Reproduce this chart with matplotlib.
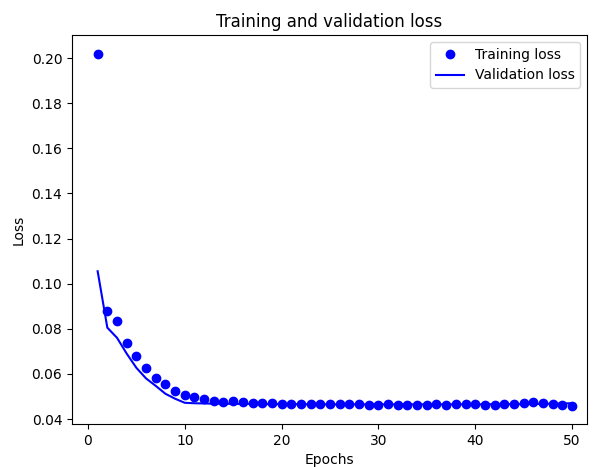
import numpy as np
import matplotlib
matplotlib.use("Agg")
import matplotlib.pyplot as plt

# Loss values
train_loss = [0.2020, 0.0878, 0.0836, 0.0736, 0.0680, 0.0628, 0.0582, 0.0554, 0.0526, 0.0508,
              0.0496, 0.0488, 0.0482, 0.0477, 0.0478, 0.0474, 0.0470, 0.0471, 0.0469, 0.0468,
              0.0468, 0.0467, 0.0467, 0.0468, 0.0466, 0.0465, 0.0466, 0.0467, 0.0464, 0.0463,
              0.0465, 0.0464, 0.0464, 0.0463, 0.0464, 0.0465, 0.0464, 0.0466, 0.0467, 0.0465,
              0.0464, 0.0463, 0.0465, 0.0467, 0.0469, 0.0474, 0.0472, 0.0466, 0.0463, 0.0458]
val_loss = [0.1055, 0.0805, 0.0760, 0.0690, 0.0627, 0.0580, 0.0547, 0.0512, 0.0490, 0.0472,
            0.0470, 0.0469, 0.0468, 0.0468, 0.0467, 0.0467, 0.0467, 0.0466, 0.0466, 0.0466,
            0.0466, 0.0466, 0.0465, 0.0465, 0.0465, 0.0465, 0.0465, 0.0465, 0.0465, 0.0465,
            0.0465, 0.0465, 0.0465, 0.0465, 0.0465, 0.0465, 0.0465, 0.0465, 0.0465, 0.0465,
            0.0465, 0.0466, 0.0466, 0.0466, 0.0466, 0.0467, 0.0467, 0.0468, 0.0469, 0.0470]
epochs = np.arange(1, len(train_loss) + 1)

fig = plt.figure(figsize=(5.95, 4.67), dpi=100)
ax = fig.add_axes([72 / 595, 1 - 424 / 467, (587 - 72) / 595, (424 - 35) / 467])

ax.plot(epochs, train_loss, 'bo', label='Training loss')
ax.plot(epochs, val_loss, 'b', label='Validation loss')
ax.set_title('Training and validation loss')
ax.set_xlabel('Epochs')
ax.set_ylabel('Loss')
ax.set_xlim(-1.65, 51.55)
ax.set_ylim(0.0378, 0.2102)
ax.legend()

fig.savefig('out.png', dpi=100)
